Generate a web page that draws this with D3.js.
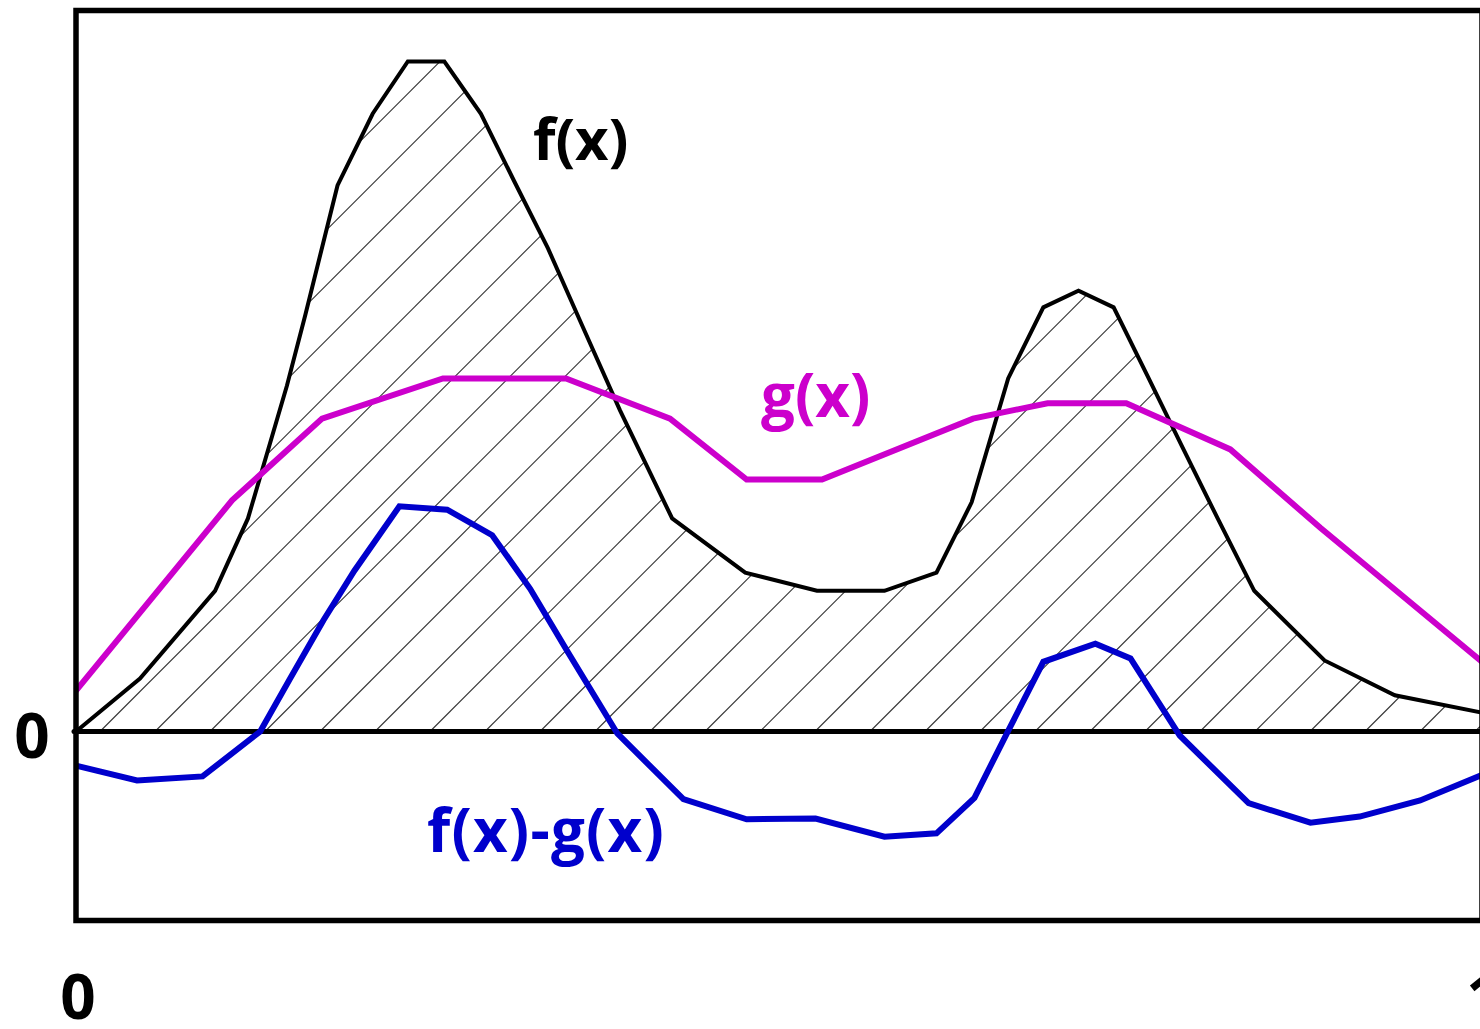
<!DOCTYPE html>
<html>
<head>
<meta charset="utf-8">
<script src="https://cdn.jsdelivr.net/npm/d3@7"></script>
<style>
  html, body { margin: 0; padding: 0; background: #fff; }
  svg { display: block; }
  text { font-family: "Open Sans", "Noto Sans", sans-serif; font-weight: 700; }
</style>
</head>
<body>
<svg id="chart" width="1480" height="1029"></svg>
<script>
// f(x): the hatched curve
const fX = [0, 0.0455, 0.0989, 0.1223, 0.150, 0.163, 0.186, 0.211, 0.236, 0.262, 0.288, 0.3115, 0.3357, 0.360, 0.387, 0.424, 0.476, 0.527, 0.575, 0.612, 0.637, 0.663, 0.688, 0.713, 0.738, 0.762, 0.787, 0.812, 0.838, 0.888, 0.938, 1.0];
const fY = [0, 0.079, 0.210, 0.318, 0.516, 0.621, 0.815, 0.922, 1.0, 1.0, 0.922, 0.822, 0.721, 0.606, 0.479, 0.318, 0.237, 0.210, 0.210, 0.237, 0.342, 0.527, 0.633, 0.658, 0.633, 0.531, 0.424, 0.318, 0.210, 0.106, 0.054, 0.028];

// g(x)
const gX = [0, 0.111, 0.175, 0.261, 0.3485, 0.4225, 0.477, 0.5306, 0.638, 0.691, 0.747, 0.821, 0.885, 1.0];
const gY = [0.061, 0.345, 0.467, 0.527, 0.527, 0.467, 0.376, 0.376, 0.467, 0.490, 0.490, 0.421, 0.304, 0.104];

// f(x) - g(x)
const dX = [0, 0.0434, 0.090, 0.131, 0.152, 0.176, 0.198, 0.230, 0.264, 0.296, 0.323, 0.350, 0.385, 0.432, 0.477, 0.526, 0.575, 0.612, 0.639, 0.663, 0.688, 0.725, 0.750, 0.785, 0.834, 0.878, 0.913, 0.956, 1.0];
const dY = [-0.051, -0.073, -0.067, 0, 0.078, 0.166, 0.240, 0.336, 0.331, 0.293, 0.213, 0.118, -0.003, -0.101, -0.131, -0.130, -0.157, -0.152, -0.099, 0.001, 0.104, 0.131, 0.109, -0.006, -0.107, -0.136, -0.127, -0.103, -0.065];

const xTicks = [0, 1];
const yTicks = [0];
const seriesLabels = ["f(x)", "g(x)", "f(x)-g(x)"];

const svg = d3.select("#chart");
const frame = { left: 76, right: 1482, top: 10.5, bottom: 920.5 };

const x = d3.scaleLinear().domain([0, 1]).range([frame.left, frame.right]);
const y = d3.scaleLinear().domain([-0.2821, 1.0761]).range([frame.bottom, frame.top]);

const fData = fX.map((v, i) => [v, fY[i]]);
const gData = gX.map((v, i) => [v, gY[i]]);
const dData = dX.map((v, i) => [v, dY[i]]);

const line = d3.line().x(d => x(d[0])).y(d => y(d[1]));
const area = d3.area().x(d => x(d[0])).y0(y(0)).y1(d => y(d[1]));

const defs = svg.append("defs");
defs.append("clipPath").attr("id", "fArea")
  .append("path").attr("d", area(fData));

// diagonal hatching under f(x)
const spacing = 55;
const y0px = y(0);
const hatch = svg.append("g").attr("clip-path", "url(#fArea)");
const offsets = d3.range(-1000, 1600, spacing);
hatch.selectAll("line").data(offsets).join("line")
  .attr("x1", d => 110 + d).attr("y1", y0px)
  .attr("x2", d => 110 + d + 800).attr("y2", y0px - 800)
  .attr("stroke", "#333").attr("stroke-width", 1.1);

// zero line
svg.append("line")
  .attr("x1", x(0) - 2).attr("x2", x(1))
  .attr("y1", y(0)).attr("y2", y(0))
  .attr("stroke", "#000").attr("stroke-width", 5).attr("stroke-linecap", "round");

svg.append("path").attr("d", line(fData))
  .attr("fill", "none").attr("stroke", "#000").attr("stroke-width", 4)
  .attr("stroke-linejoin", "miter");

svg.append("path").attr("d", line(gData))
  .attr("fill", "none").attr("stroke", "#cc00cc").attr("stroke-width", 6);

svg.append("path").attr("d", line(dData))
  .attr("fill", "none").attr("stroke", "#0000cc").attr("stroke-width", 6);

// frame
svg.append("rect")
  .attr("x", frame.left).attr("y", frame.top)
  .attr("width", frame.right - frame.left).attr("height", frame.bottom - frame.top)
  .attr("fill", "none").attr("stroke", "#000").attr("stroke-width", 5.5);

// axis labels
svg.selectAll("text.xt").data(xTicks).join("text")
  .attr("class", "xt")
  .attr("x", d => x(d) + 2).attr("y", 1019)
  .attr("text-anchor", "middle").attr("font-size", 62)
  .attr("fill", "#000").text(d => d);

svg.selectAll("text.yt").data(yTicks).join("text")
  .attr("class", "yt")
  .attr("x", 32).attr("y", y(0) + 27)
  .attr("text-anchor", "middle").attr("font-size", 62)
  .attr("fill", "#000").text(d => d);

// series labels
const labelPos = [[533, 160, "#000", 58], [761, 417, "#cc00cc", 60], [427, 852, "#0000cc", 60]];
svg.selectAll("text.lab").data(seriesLabels).join("text")
  .attr("class", "lab")
  .attr("x", (d, i) => labelPos[i][0]).attr("y", (d, i) => labelPos[i][1])
  .attr("font-size", (d, i) => labelPos[i][3]).attr("fill", (d, i) => labelPos[i][2])
  .attr("letter-spacing", (d, i) => i === 2 ? 1.2 : 0)
  .text(d => d);
</script>
</body>
</html>
